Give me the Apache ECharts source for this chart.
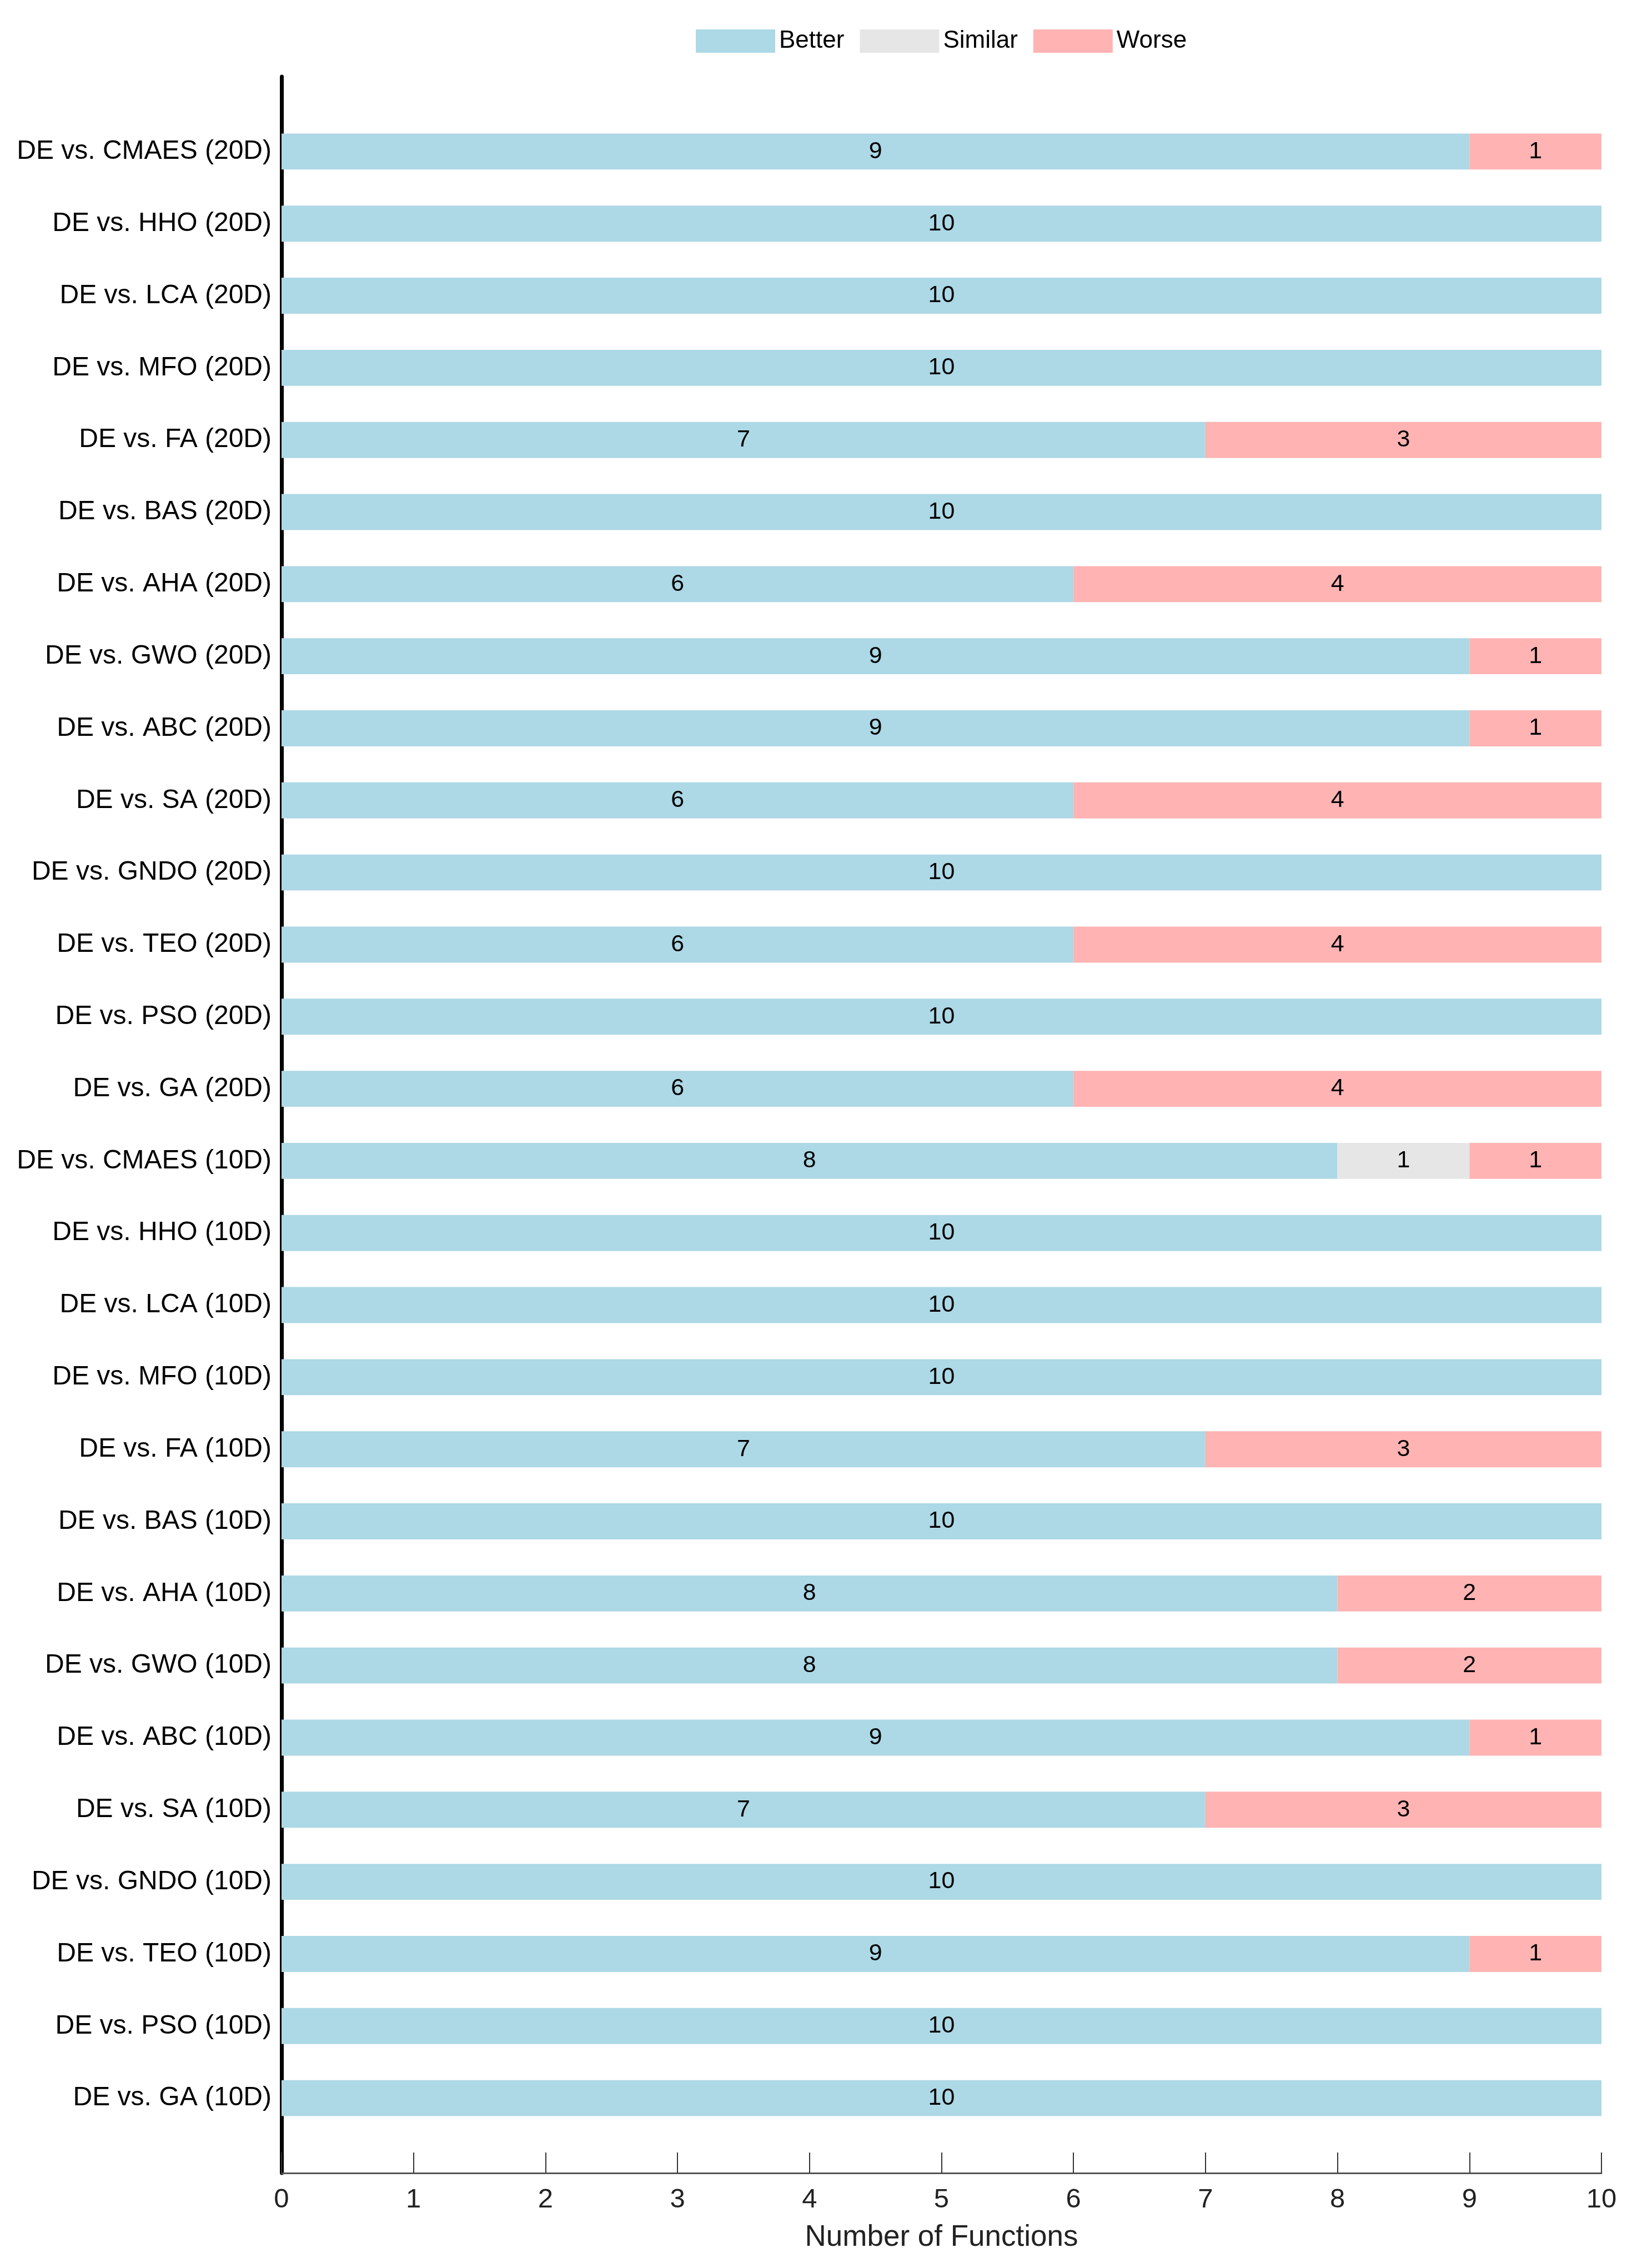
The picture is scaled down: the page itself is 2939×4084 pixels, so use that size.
<!DOCTYPE html>
<html>
<head>
<meta charset="utf-8">
<script src="https://cdn.jsdelivr.net/npm/echarts@6/dist/echarts.min.js"></script>
<style>
html, body { margin: 0; padding: 0; background: #fff; }
#main { width: 2939px; height: 4084px; }
</style>
</head>
<body>
<div id="main"></div>
<script>
var categories = [
    'DE vs. CMAES (20D)', 'DE vs. HHO (20D)', 'DE vs. LCA (20D)', 'DE vs. MFO (20D)',
    'DE vs. FA (20D)', 'DE vs. BAS (20D)', 'DE vs. AHA (20D)', 'DE vs. GWO (20D)',
    'DE vs. ABC (20D)', 'DE vs. SA (20D)', 'DE vs. GNDO (20D)', 'DE vs. TEO (20D)',
    'DE vs. PSO (20D)', 'DE vs. GA (20D)',
    'DE vs. CMAES (10D)', 'DE vs. HHO (10D)', 'DE vs. LCA (10D)', 'DE vs. MFO (10D)',
    'DE vs. FA (10D)', 'DE vs. BAS (10D)', 'DE vs. AHA (10D)', 'DE vs. GWO (10D)',
    'DE vs. ABC (10D)', 'DE vs. SA (10D)', 'DE vs. GNDO (10D)', 'DE vs. TEO (10D)',
    'DE vs. PSO (10D)', 'DE vs. GA (10D)'
];
var better  = [9, 10, 10, 10, 7, 10, 6, 9, 9, 6, 10, 6, 10, 6,
               8, 10, 10, 10, 7, 10, 8, 8, 9, 7, 10, 9, 10, 10];
var similar = [0, 0, 0, 0, 0, 0, 0, 0, 0, 0, 0, 0, 0, 0,
               1, 0, 0, 0, 0, 0, 0, 0, 0, 0, 0, 0, 0, 0];
var worse   = [1, 0, 0, 0, 3, 0, 4, 1, 1, 4, 0, 4, 0, 4,
               1, 0, 0, 0, 3, 0, 2, 2, 1, 3, 0, 1, 0, 0];
var xTicks = [0, 10];

var font = 'Liberation Sans, Arial, Helvetica, sans-serif';
var dom = document.getElementById('main');
var myChart = echarts.init(dom);

function barSeries(name, data, color) {
    return {
        name: name,
        type: 'bar',
        stack: 'total',
        xAxisIndex: 0,
        yAxisIndex: 0,
        barCategoryGap: '50%',
        itemStyle: { color: color },
        label: {
            show: true,
            position: 'inside',
            color: '#000',
            fontSize: 43,
            fontFamily: font,
            formatter: function (p) { return p.value > 0 ? p.value : ''; }
        },
        data: data
    };
}

var option = {
    animation: false,
    textStyle: { fontFamily: font },
    legend: {
        data: ['Better', 'Similar', 'Worse'],
        left: 1248,
        top: 47,
        itemWidth: 143,
        itemHeight: 42,
        itemGap: 28,
        icon: 'rect',
        textStyle: { fontSize: 44, color: '#000', padding: [0, 0, 0, 2] }
    },
    grid: [
        { left: 507, right: 55, top: 208, bottom: 241 },
        { left: 507, right: 55, top: 138, bottom: 171 }
    ],
    xAxis: [
        { type: 'value', gridIndex: 0, min: xTicks[0], max: xTicks[1], show: false },
        {
            type: 'value', gridIndex: 1, min: xTicks[0], max: xTicks[1], interval: 1,
            name: 'Number of Functions',
            nameLocation: 'middle',
            nameGap: 90,
            nameTextStyle: { fontSize: 53, color: '#222' },
            axisLine: { show: true, lineStyle: { color: '#555', width: 3 } },
            axisTick: { show: true, inside: true, length: 37, lineStyle: { color: '#333', width: 2 } },
            axisLabel: { fontSize: 49, color: '#222', margin: 24 },
            splitLine: { show: false }
        }
    ],
    yAxis: [
        {
            type: 'category', gridIndex: 0, inverse: true, data: categories,
            axisLine: { show: false },
            axisTick: { show: false },
            axisLabel: { fontSize: 48, color: '#000', margin: 18 }
        },
        {
            type: 'value', gridIndex: 1,
            axisLine: { show: true, lineStyle: { color: '#000', width: 7 } },
            axisTick: { show: false },
            axisLabel: { show: false },
            splitLine: { show: false }
        }
    ],
    series: [
        barSeries('Better', better, '#ADD8E6'),
        barSeries('Similar', similar, '#E6E6E6'),
        barSeries('Worse', worse, '#FFB3B3')
    ]
};

if (option && typeof option === 'object') {
    myChart.setOption(option, true);
}
</script>
</body>
</html>
